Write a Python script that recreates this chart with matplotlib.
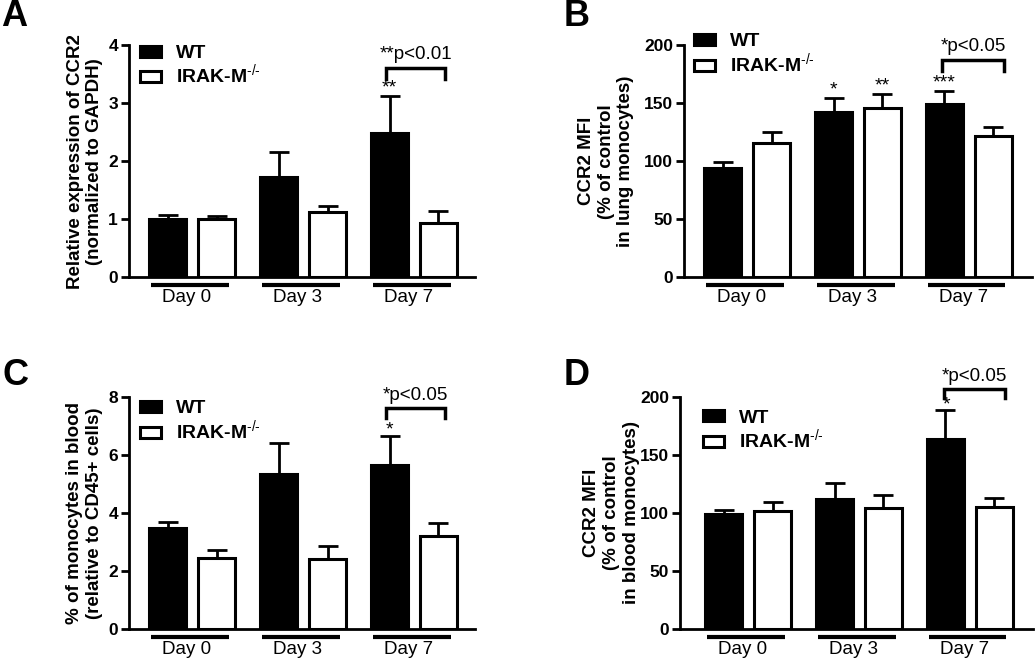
import matplotlib
matplotlib.use("Agg")
import matplotlib.pyplot as plt
import matplotlib.transforms as mtransforms
from matplotlib.patches import Patch
import numpy as np

plt.rcParams['font.family'] = ['Liberation Sans', 'DejaVu Sans']
plt.rcParams['mathtext.fontset'] = 'custom'
plt.rcParams['mathtext.rm'] = 'Liberation Sans'
plt.rcParams['mathtext.bf'] = 'Liberation Sans:bold'
plt.rcParams['axes.linewidth'] = 2.0

days = ["Day 0", "Day 3", "Day 7"]
series = ["WT", r"IRAK-M$^{\text{-/-}}$"]

# Panel A
a_wt = [1.0, 1.73, 2.49]
a_wt_err = [0.08, 0.42, 0.64]
a_ko = [1.0, 1.12, 0.94]
a_ko_err = [0.05, 0.11, 0.20]
# Panel B
b_wt = [94, 142, 149]
b_wt_err = [5, 12, 11]
b_ko = [116, 146, 122]
b_ko_err = [9, 12, 7]
# Panel C
c_wt = [3.49, 5.34, 5.64]
c_wt_err = [0.21, 1.08, 1.0]
c_ko = [2.45, 2.41, 3.2]
c_ko_err = [0.26, 0.44, 0.44]
# Panel D
d_wt = [99, 112, 164]
d_wt_err = [3.5, 14, 25]
d_ko = [102, 104, 105]
d_ko_err = [7.5, 11.5, 8]

W, H = 1035, 660
fig = plt.figure(figsize=(W / 100, H / 100), dpi=100)


def px_axes(x0, x1, ytop, ybot):
    return fig.add_axes([x0 / W, 1 - ybot / H, (x1 - x0) / W, (ybot - ytop) / H])


def panel(ax, wt, wterr, ko, koerr, ymax, ystep, ylabel, label_x, stars, bracket,
          ptext, xlim, leg_anchor):
    x = np.arange(len(days))
    bw = 0.335
    off = 0.22
    ax.bar(x - off, wt, bw, color='black', edgecolor='black', linewidth=2.2, zorder=2)
    ax.bar(x + off, ko, bw, color='white', edgecolor='black', linewidth=2.2, zorder=2)
    ax.errorbar(x - off, wt, yerr=[np.zeros(3), wterr], fmt='none', ecolor='black',
                elinewidth=2.0, capsize=7.5, capthick=2.0, zorder=1)
    ax.errorbar(x + off, ko, yerr=[np.zeros(3), koerr], fmt='none', ecolor='black',
                elinewidth=2.0, capsize=7.5, capthick=2.0, zorder=1)
    ax.set_ylim(0, ymax)
    ax.set_xlim(*xlim)
    ticks = np.arange(0, ymax + ystep / 2, ystep)
    ax.set_yticks(ticks)
    ax.set_yticklabels([f"{v:g}" for v in ticks], fontsize=12.5, fontweight='bold')
    ax.set_xticks([])
    ax.spines['top'].set_visible(False)
    ax.spines['right'].set_visible(False)
    ax.tick_params(axis='y', direction='out', length=6, width=2.0, pad=2)
    ax.set_ylabel(ylabel, fontsize=13.5, fontweight='bold', linespacing=1.2,
                  va='center')
    ax.yaxis.set_label_coords(label_x, 0.5)
    trans = mtransforms.blended_transform_factory(ax.transData, ax.transAxes)
    for i, d in enumerate(days):
        ax.plot([i - 0.37, i + 0.33], [-0.033, -0.033], color='black', lw=3,
                transform=trans, clip_on=False, solid_capstyle='butt')
        ax.text(i - 0.05, -0.088, d, transform=trans, ha='center', va='center',
                fontsize=13.5)
    for (xi, yi, s) in stars:
        ax.text(xi, yi, s, ha='center', va='center', fontsize=14, clip_on=False)
    bx0, bx1, by0, by1 = bracket
    ax.plot([bx0, bx0, bx1, bx1], [by0, by1, by1, by0], color='black', lw=2.5,
            clip_on=False, solid_joinstyle='miter')
    ax.text((bx0 + bx1) / 2, by1 + (by1 - by0) * 1.3, ptext, ha='center',
            va='center', fontsize=13.5, clip_on=False)
    handles = [Patch(facecolor='black', edgecolor='black', linewidth=2.2),
               Patch(facecolor='white', edgecolor='black', linewidth=2.2)]
    ax.legend(handles, series, loc='upper left', bbox_to_anchor=leg_anchor,
              frameon=False, prop={'weight': 'bold', 'size': 14},
              handlelength=1.1, handleheight=0.5, handletextpad=0.75,
              labelspacing=0.05, borderaxespad=0, borderpad=0)


# A
axA = px_axes(129, 475, 45, 277.3)
panel(axA, a_wt, a_wt_err, a_ko, a_ko_err, 4, 1,
      "Relative expression of CCR2\n(normalized to GAPDH)", -0.127,
      [(1.78, 3.26, "**")], (1.75, 2.28, 3.42, 3.6), "**p<0.01",
      (-0.57, 2.55), (0.032, 1.0))
# B
axB = px_axes(684, 1032, 45, 277.3)
panel(axB, b_wt, b_wt_err, b_ko, b_ko_err, 200, 50,
      "CCR2 MFI\n(% of control\nin lung monocytes)", -0.223,
      [(0.78, 161, "*"), (1.22, 165, "**"), (1.78, 167, "***")],
      (1.76, 2.32, 178, 187), "*p<0.05", (-0.57, 2.57), (0.029, 1.05))
# C
axC = px_axes(129, 475, 397, 629)
panel(axC, c_wt, c_wt_err, c_ko, c_ko_err, 8, 2,
      "% of monocytes in blood\n(relative to CD45+ cells)", -0.129,
      [(1.78, 6.86, "*")], (1.75, 2.28, 7.27, 7.61), "*p<0.05",
      (-0.57, 2.55), (0.032, 0.985))
# D
axD = px_axes(680, 1033, 397, 629)
panel(axD, d_wt, d_wt_err, d_ko, d_ko_err, 200, 50,
      "CCR2 MFI\n(% of control\nin blood monocytes)", -0.194,
      [(1.79, 193, "*")], (1.77, 2.32, 199, 207), "*p<0.05",
      (-0.615, 2.57), (0.065, 0.945))

for lab, (x, y) in zip("ABCD", [(14, 17), (577, 17), (16, 375), (577, 375)]):
    fig.text(x / W, 1 - y / H, lab, fontsize=26, fontweight='bold', ha='center',
             va='center')

fig.savefig("out.png", dpi=100)
